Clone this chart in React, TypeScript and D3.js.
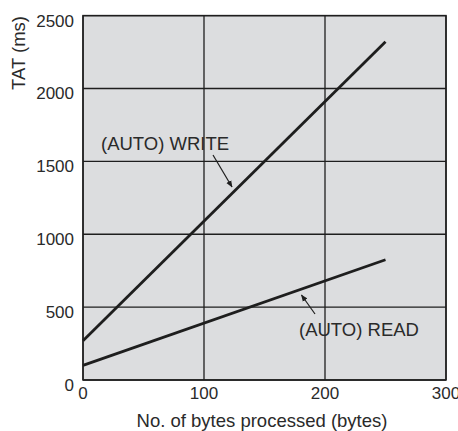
import React from "react";
import * as d3 from "d3";

const xTicks = [0, 100, 200, 300];
const yTicks = [0, 500, 1000, 1500, 2000, 2500];
const bytes = [0, 250];
const writeTAT = [270, 2320];
const readTAT = [100, 825];
const xLabel = "No. of bytes processed (bytes)";
const yLabel = "TAT (ms)";
const writeLabel = "(AUTO) WRITE";
const readLabel = "(AUTO) READ";

export default function App() {
  const W = 458, H = 431;
  const m = { left: 83, right: 446, top: 15.6, bottom: 380 };
  const x = d3.scaleLinear().domain([0, 300]).range([m.left, m.right]);
  const y = d3.scaleLinear().domain([0, 2500]).range([m.bottom, m.top]);
  const line = d3
    .line<[number, number]>()
    .x((d) => x(d[0]))
    .y((d) => y(d[1]));
  const writePts = bytes.map((b, i) => [b, writeTAT[i]] as [number, number]);
  const readPts = bytes.map((b, i) => [b, readTAT[i]] as [number, number]);
  const font = "'Liberation Sans', Arial, sans-serif";
  const ink = "#1e1e1e";
  const txt = "#2a2a2a";
  return (
    <svg
      width={W}
      height={H}
      style={{ position: "absolute", left: 0, top: 0, background: "#fff" }}
      fontFamily={font}
    >
      <defs>
        <marker
          id="ah"
          viewBox="0 0 10 10"
          refX="9"
          refY="5"
          markerWidth="7"
          markerHeight="7"
          orient="auto"
          markerUnits="userSpaceOnUse"
        >
          <path d="M0,1 L10,5 L0,9 Z" fill={ink} />
        </marker>
      </defs>
      <rect
        x={m.left}
        y={m.top}
        width={m.right - m.left}
        height={m.bottom - m.top}
        fill="#dcdddf"
      />
      {xTicks.map((t) => (
        <line
          key={"gx" + t}
          x1={x(t)}
          x2={x(t)}
          y1={m.top}
          y2={m.bottom}
          stroke={ink}
          strokeWidth={1.3}
        />
      ))}
      {yTicks.map((t) => (
        <line
          key={"gy" + t}
          x1={m.left}
          x2={m.right}
          y1={y(t)}
          y2={y(t)}
          stroke={ink}
          strokeWidth={1.3}
        />
      ))}
      <rect
        x={m.left}
        y={m.top}
        width={m.right - m.left}
        height={m.bottom - m.top}
        fill="none"
        stroke={ink}
        strokeWidth={1.5}
      />
      <path d={line(writePts) || ""} fill="none" stroke={ink} strokeWidth={2.8} />
      <path d={line(readPts) || ""} fill="none" stroke={ink} strokeWidth={2.8} />
      {xTicks.map((t) => (
        <text
          key={"tx" + t}
          x={x(t)}
          y={399}
          textAnchor="middle"
          fontSize={17}
          fill={txt}
        >
          {t}
        </text>
      ))}
      {yTicks.map((t) => (
        <text
          key={"ty" + t}
          x={74}
          y={y(t) + 11}
          textAnchor="end"
          fontSize={17}
          fill={txt}
        >
          {t}
        </text>
      ))}
      <text
        x={262}
        y={427}
        textAnchor="middle"
        fontSize={18.5}
        fill={txt}
      >
        {xLabel}
      </text>
      <text
        transform={`translate(25,53) rotate(-90)`}
        textAnchor="middle"
        fontSize={18.5}
        fill={txt}
      >
        {yLabel}
      </text>
      <text x={101} y={150} fontSize={18.5} fill={txt}>
        {writeLabel}
      </text>
      <line
        x1={213}
        y1={155}
        x2={232}
        y2={187}
        stroke={ink}
        strokeWidth={1.2}
        markerEnd="url(#ah)"
      />
      <text x={299} y={336} fontSize={18.5} fill={txt}>
        {readLabel}
      </text>
      <line
        x1={315}
        y1={314}
        x2={301.5}
        y2={295}
        stroke={ink}
        strokeWidth={1.2}
        markerEnd="url(#ah)"
      />
    </svg>
  );
}
